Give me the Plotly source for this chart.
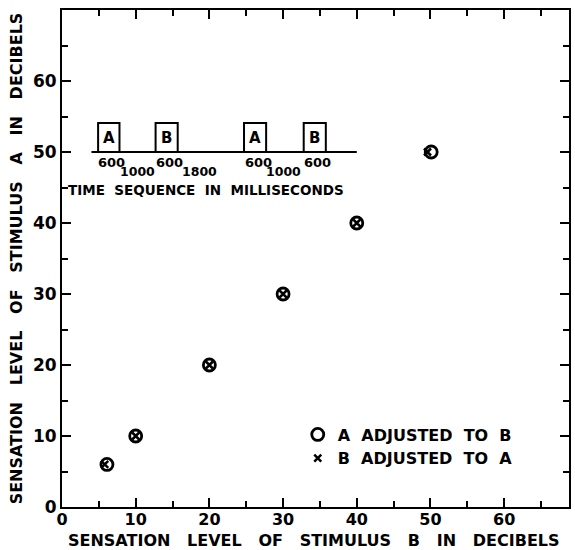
import plotly.graph_objects as go

# ---- data ----
a_adj_x = [6.1, 10, 20, 30, 40, 50.1]   # sensation level of B (dB)
a_adj_y = [6, 10, 20, 30, 40, 50]       # sensation level of A (dB)
b_adj_x = [5.8, 10, 20, 30, 40, 49.6]
b_adj_y = [6, 10, 20, 30, 40, 50]
x_ticks = [0, 10, 20, 30, 40, 50, 60]
y_ticks = [0, 10, 20, 30, 40, 50, 60]

# inset timing diagram (time sequence in ms)
box_labels = ["A", "B", "A", "B"]
box_x0 = [4.9, 12.7, 24.7, 32.8]
box_x1 = [7.8, 15.7, 27.7, 35.8]
dur_labels = ["600", "600", "600", "600"]
gap_labels = ["1000", "1800", "1000"]
gap_x = [10.3, 18.6, 30.0]

FONT = "DejaVu Sans"
NB = "\u00a0"

def spaced(s, n=3):
    return s.replace(" ", NB * n)

fig = go.Figure()
fig.add_trace(go.Scatter(
    x=a_adj_x, y=a_adj_y, mode="markers", name=spaced("A ADJUSTED TO B", 2),
    marker=dict(symbol="circle-open", size=12, color="black", line=dict(width=2.8, color="black"))))
fig.add_trace(go.Scatter(
    x=b_adj_x, y=b_adj_y, mode="markers", name=spaced("B ADJUSTED TO A", 2),
    marker=dict(symbol="x-thin-open", size=7, color="black", line=dict(width=2.5, color="black"))))

# inset shapes
shapes = [dict(type="line", x0=4.0, x1=40.0, y0=50, y1=50, line=dict(color="black", width=2))]
for x0, x1 in zip(box_x0, box_x1):
    shapes.append(dict(type="path",
                       path=f"M {x0} 50 L {x0} 54.1 L {x1} 54.1 L {x1} 50",
                       line=dict(color="black", width=2)))
annotations = []
for lab, x0, x1 in zip(box_labels, box_x0, box_x1):
    annotations.append(dict(x=(x0 + x1) / 2, y=52.0, text=lab, showarrow=False,
                            font=dict(family=FONT, size=15, color="black", weight="bold")))
for lab, x0, x1 in zip(dur_labels, box_x0, box_x1):
    annotations.append(dict(x=(x0 + x1) / 2 + 0.4, y=48.5, text=lab, showarrow=False, borderpad=0,
                            font=dict(family=FONT, size=13, color="black", weight="bold")))
for lab, gx in zip(gap_labels, gap_x):
    annotations.append(dict(x=gx, y=47.2, text=lab, showarrow=False, borderpad=0,
                            font=dict(family=FONT, size=12.5, color="black", weight="bold")))
annotations.append(dict(x=0.7, y=44.6, xanchor="left", text=spaced("TIME SEQUENCE IN MILLISECONDS", 2),
                        showarrow=False, borderpad=0,
                        font=dict(family=FONT, size=13.5, color="black", weight="bold")))

# x-axis title (placed as annotation for exact vertical placement)
annotations.append(dict(xref="paper", yref="paper", x=0.497, y=-0.047, xanchor="center", yanchor="top",
                        text=spaced("SENSATION LEVEL OF STIMULUS B IN DECIBELS", 3), showarrow=False,
                        borderpad=0, font=dict(family=FONT, size=16, color="black", weight="bold")))

axis_common = dict(
    showline=True, linecolor="black", linewidth=2, mirror="ticks",
    ticks="inside", ticklen=9, tickwidth=2, tickcolor="black",
    showgrid=False, zeroline=False,
    minor=dict(dtick=5, ticks="inside", ticklen=6, tickwidth=1.5, tickcolor="black", showgrid=False),
)

fig.update_xaxes(range=[0, 68.8], tickvals=x_ticks, ticktext=[str(v) for v in x_ticks],
                 tickfont=dict(family=FONT, size=16, color="black", weight="bold"),
                 ticklabelstandoff=-3,
                 **axis_common)
fig.update_yaxes(range=[0, 70], tickvals=y_ticks, ticktext=[str(v) for v in y_ticks],
                 tickfont=dict(family=FONT, size=17, color="black", weight="bold"),
                 title=dict(text=spaced("SENSATION LEVEL OF STIMULUS A IN DECIBELS", 3),
                            font=dict(family=FONT, size=16, color="black", weight="bold"), standoff=6),
                 **axis_common)

fig.update_layout(
    width=575, height=550,
    margin=dict(l=62, r=4, t=10, b=43),
    plot_bgcolor="white", paper_bgcolor="white",
    shapes=shapes, annotations=annotations,
    showlegend=True,
    legend=dict(x=0.465, y=0.18, xanchor="left", yanchor="top",
                font=dict(family=FONT, size=16, color="black", weight="bold"),
                bgcolor="rgba(0,0,0,0)", tracegroupgap=0, itemwidth=30),
)

fig.write_html("out.html")
